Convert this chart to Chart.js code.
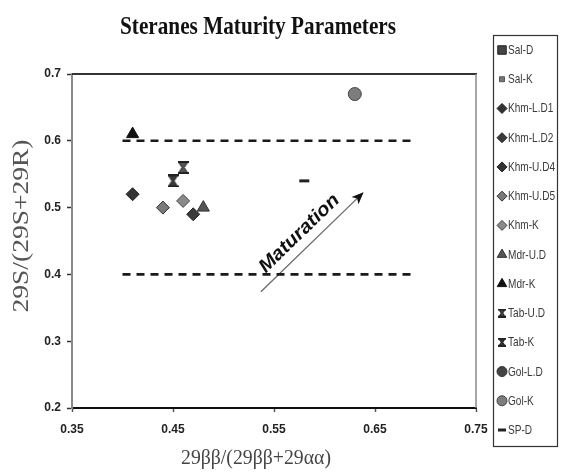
<!DOCTYPE html>
<html>
<head>
<meta charset="utf-8">
<script src="https://cdn.jsdelivr.net/npm/chart.js@4.4.1/dist/chart.umd.min.js"></script>
<style>
  html, body { margin: 0; padding: 0; background: #ffffff; }
  #wrap { position: relative; width: 563px; height: 472px; }
</style>
</head>
<body>
<div id="wrap"><canvas id="c" width="563" height="472"></canvas></div>
<script>
// ---------------- data ----------------
const chartTitle = 'Steranes Maturity Parameters';
const xAxisTitle = '29ββ/(29ββ+29αα)';
const yAxisTitle = '29S/(29S+29R)';
const categories = ['Sal-D','Sal-K','Khm-L.D1','Khm-L.D2','Khm-U.D4','Khm-U.D5','Khm-K','Mdr-U.D','Mdr-K','Tab-U.D','Tab-K','Gol-L.D','Gol-K','SP-D'];
const xValues = [null, null, 0.41, 0.47, null, 0.44, 0.46, 0.48, 0.41, 0.46, 0.45, null, 0.63, 0.58];
const yValues = [null, null, 0.52, 0.49, null, 0.50, 0.51, 0.50, 0.61, 0.56, 0.54, null, 0.67, 0.54];
const xTicks = [0.35, 0.45, 0.55, 0.65, 0.75];
const yTicks = [0.2, 0.3, 0.4, 0.5, 0.6, 0.7];
const limitX = [0.40, 0.69];
const upperLimitY = [0.6, 0.6];
const lowerLimitY = [0.4, 0.4];
const arrowX = [0.537, 0.638];
const arrowY = [0.374, 0.522];
const arrowLabel = 'Maturation';

// ---------------- marker styles ----------------
function hourglass(fill, w, h) {
  const cv = document.createElement('canvas');
  cv.width = w; cv.height = h;
  const c = cv.getContext('2d');
  c.fillStyle = fill;
  c.strokeStyle = '#222';
  c.lineWidth = 1;
  c.beginPath();
  c.moveTo(0.5, 0.5); c.lineTo(w - 0.5, 0.5);
  c.lineTo(w * 0.6, h / 2);
  c.lineTo(w - 0.5, h - 0.5); c.lineTo(0.5, h - 0.5);
  c.lineTo(w * 0.4, h / 2);
  c.closePath();
  c.fill(); c.stroke();
  c.fillStyle = '#222';
  c.fillRect(0, 0, w, 2);
  c.fillRect(0, h - 2, w, 2);
  return cv;
}
const tabUD = hourglass('#555', 11, 13);
const tabK = hourglass('#3a3a3a', 11, 13);
const tabUDs = hourglass('#444', 8, 9);
const tabKs = hourglass('#333', 8, 9);

const markerStyles = [
  { style: 'rect',     fill: '#444', stroke: '#222', r: 6,  lr: 6 },
  { style: 'rect',     fill: '#777', stroke: '#555', r: 4,  lr: 3.5 },
  { style: 'rectRot',  fill: '#333', stroke: '#222', r: 6.5, lr: 5 },
  { style: 'rectRot',  fill: '#3a3a3a', stroke: '#222', r: 6.5, lr: 5 },
  { style: 'rectRot',  fill: '#333', stroke: '#222', r: 6.5, lr: 5 },
  { style: 'rectRot',  fill: '#7a7a7a', stroke: '#333', r: 6.5, lr: 5 },
  { style: 'rectRot',  fill: '#8a8a8a', stroke: '#444', r: 6.5, lr: 5 },
  { style: 'triangle', fill: '#555', stroke: '#333', r: 7,  lr: 5.5 },
  { style: 'triangle', fill: '#111', stroke: '#111', r: 7,  lr: 5.5 },
  { style: tabUD, legend: tabUDs, fill: '#666', stroke: '#222', r: 6, lr: 5 },
  { style: tabK,  legend: tabKs,  fill: '#444', stroke: '#222', r: 6, lr: 5 },
  { style: 'circle',   fill: '#444', stroke: '#333', r: 6,  lr: 5 },
  { style: 'circle',   fill: '#7d7d7d', stroke: '#444', r: 6.5, lr: 5 },
  { style: 'line',     fill: '#222', stroke: '#222', r: 5,  lr: 4, bw: 3 }
];

// ---------------- datasets ----------------
const datasets = categories.map((name, i) => {
  const m = markerStyles[i];
  const pts = xValues[i] === null ? [] : [{ x: xValues[i], y: yValues[i] }];
  return {
    label: name,
    data: pts,
    pointStyle: m.style,
    pointRadius: m.r,
    pointBackgroundColor: m.fill,
    pointBorderColor: m.stroke,
    pointBorderWidth: m.bw || 1,
    showLine: false,
    order: 1
  };
});
datasets.push({
  label: '_upper', type: 'line',
  data: limitX.map((x, i) => ({ x: x, y: upperLimitY[i] })),
  borderColor: '#1a1a1a', borderWidth: 2.6, borderDash: [8, 6],
  pointRadius: 0, fill: false, order: 3
});
datasets.push({
  label: '_lower', type: 'line',
  data: limitX.map((x, i) => ({ x: x, y: lowerLimitY[i] })),
  borderColor: '#1a1a1a', borderWidth: 2.6, borderDash: [8, 6],
  pointRadius: 0, fill: false, order: 3
});
datasets.push({
  label: '_arrow', type: 'line',
  data: arrowX.map((x, i) => ({ x: x, y: arrowY[i] })),
  borderColor: '#6a6a6a', borderWidth: 1.3,
  pointRadius: 0, fill: false, order: 3
});

// ---------------- helpers ----------------
function fitText(ctx, text, cx, cy, font, width, rot, color, align) {
  ctx.save();
  ctx.font = font;
  ctx.fillStyle = color;
  ctx.textAlign = align || 'center';
  ctx.textBaseline = 'middle';
  ctx.translate(cx, cy);
  if (rot) ctx.rotate(rot);
  if (width) {
    const w = ctx.measureText(text).width;
    ctx.scale(width / w, 1);
  }
  ctx.fillText(text, 0, 0);
  ctx.restore();
}

const decorPlugin = {
  id: 'decor',
  beforeDatasetsDraw(chart) {
    const { ctx, chartArea: a } = chart;
    ctx.save();
    ctx.strokeStyle = '#333';
    ctx.lineWidth = 2;
    ctx.beginPath();
    ctx.moveTo(a.left, a.top); ctx.lineTo(a.right + 1, a.top);
    ctx.stroke();
    ctx.strokeStyle = '#8a8a8a';
    ctx.lineWidth = 1.5;
    ctx.beginPath();
    ctx.moveTo(a.right, a.top); ctx.lineTo(a.right, a.bottom);
    ctx.stroke();
    ctx.restore();
  },
  afterDraw(chart) {
    const { ctx } = chart;
    const xs = chart.scales.x, ys = chart.scales.y;
    // titles
    fitText(ctx, chartTitle, 258, 27, 'bold 26px "Liberation Serif", "Times New Roman", serif', 276, 0, '#111');
    fitText(ctx, xAxisTitle, 256, 459, '20px "Liberation Serif", "Times New Roman", serif', 150, 0, '#444');
    fitText(ctx, yAxisTitle, 22, 226, '23px "Liberation Serif", "Times New Roman", serif', 173, -Math.PI / 2, '#555');

    // arrow head + label
    const x0 = xs.getPixelForValue(arrowX[0]), y0 = ys.getPixelForValue(arrowY[0]);
    const x1 = xs.getPixelForValue(arrowX[1]), y1 = ys.getPixelForValue(arrowY[1]);
    const ang = Math.atan2(y1 - y0, x1 - x0);
    ctx.save();
    ctx.translate(x1, y1);
    ctx.rotate(ang);
    ctx.fillStyle = '#111';
    ctx.beginPath();
    ctx.moveTo(1, 0);
    ctx.lineTo(-11, -5);
    ctx.lineTo(-8, 0);
    ctx.lineTo(-11, 5);
    ctx.closePath();
    ctx.fill();
    ctx.restore();

    const len = Math.hypot(x1 - x0, y1 - y0);
    const ux = (x1 - x0) / len, uy = (y1 - y0) / len;
    const t = 0.48, off = 15;
    const cx = x0 + ux * len * t + uy * off;
    const cy = y0 + uy * len * t - ux * off;
    fitText(ctx, arrowLabel, cx, cy, 'italic bold 19px "Liberation Sans", Arial, sans-serif', 104, ang, '#111');

    // legend
    const L = 493, T = 35, R = 558, B = 447;
    ctx.save();
    ctx.fillStyle = '#fff';
    ctx.fillRect(L, T, R - L, B - T);
    ctx.strokeStyle = '#333';
    ctx.lineWidth = 1.2;
    ctx.strokeRect(L + 0.5, T + 0.5, R - L - 1, B - T - 1);
    const step = (430 - 50) / (categories.length - 1);
    categories.forEach((name, i) => {
      const m = markerStyles[i];
      const y = 50 + i * step;
      const mx = 502;
      ctx.fillStyle = m.fill;
      ctx.strokeStyle = m.stroke;
      ctx.lineWidth = m.bw || 1;
      const st = m.legend || m.style;
      if (Chart.helpers && Chart.helpers.drawPoint) {
        Chart.helpers.drawPoint(ctx, { pointStyle: st, radius: m.lr, rotation: 0, borderWidth: m.bw || 1 }, mx, y);
      } else {
        ctx.beginPath(); ctx.arc(mx, y, m.lr, 0, Math.PI * 2); ctx.fill();
      }
      ctx.save();
      ctx.font = '12px "Liberation Sans", Arial, sans-serif';
      ctx.fillStyle = '#3a3a3a';
      ctx.textAlign = 'left';
      ctx.textBaseline = 'middle';
      ctx.translate(508, y + 0.5);
      ctx.scale(0.84, 1.05);
      ctx.fillText(name, 0, 0);
      ctx.restore();
    });
    ctx.restore();
  }
};

// ---------------- chart ----------------
new Chart(document.getElementById('c'), {
  type: 'scatter',
  data: { datasets: datasets },
  plugins: [decorPlugin],
  options: {
    responsive: false,
    animation: false,
    events: [],
    layout: { padding: { top: 74, right: 87, left: 0, bottom: 0 } },
    plugins: { legend: { display: false }, title: { display: false }, tooltip: { enabled: false } },
    scales: {
      x: {
        type: 'linear', min: 0.35, max: 0.75,
        afterBuildTicks: s => { s.ticks = xTicks.map(v => ({ value: v })); },
        afterFit: s => { s.height = 64; },
        ticks: {
          autoSkip: false, maxRotation: 0, padding: 10, color: '#222',
          font: { family: '"Liberation Sans", Arial, sans-serif', size: 12, weight: 'bold' },
          callback: v => Number(v).toFixed(2)
        },
        grid: { display: true, drawOnChartArea: false, drawTicks: true, tickLength: 4, tickColor: '#555', tickWidth: 1.5 },
        border: { display: true, color: '#111', width: 2 }
      },
      y: {
        type: 'linear', min: 0.2, max: 0.7,
        afterBuildTicks: s => { s.ticks = yTicks.map(v => ({ value: v })); },
        afterFit: s => { s.width = 72; },
        ticks: {
          autoSkip: false, padding: 6, color: '#222',
          font: { family: '"Liberation Sans", Arial, sans-serif', size: 12, weight: 'bold' },
          callback: v => Number(v).toFixed(1)
        },
        grid: { display: true, drawOnChartArea: false, drawTicks: true, tickLength: 5, tickColor: '#333', tickWidth: 1.5 },
        border: { display: true, color: '#8a8a8a', width: 2 }
      }
    }
  }
});
</script>
</body>
</html>
